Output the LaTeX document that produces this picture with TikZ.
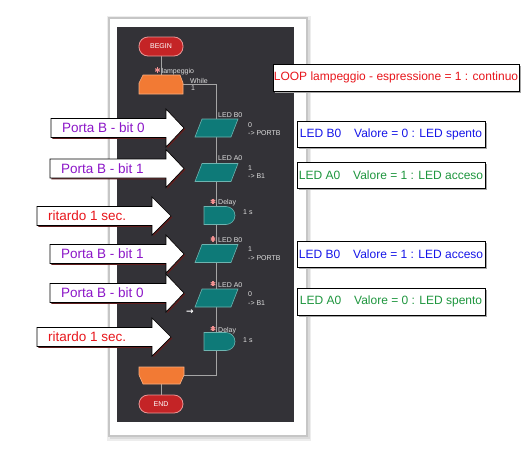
\documentclass[tikz,border=0pt]{standalone}
\usepackage{fontspec}
\setmainfont{Liberation Sans}
\newfontfamily\dejavu{DejaVu Sans}
\usetikzlibrary{calc,shadows}
\pgfdeclarelayer{back}
\pgfdeclarelayer{lines}
\pgfsetlayers{back,lines,main}

\definecolor{panel}{RGB}{51,50,55}
\definecolor{framegray}{RGB}{198,198,198}
\definecolor{flowline}{RGB}{165,165,165}
\definecolor{orangeblk}{RGB}{242,122,52}
\definecolor{orangeedge}{RGB}{250,175,130}
\definecolor{tealblk}{RGB}{14,122,120}
\definecolor{tealedge}{RGB}{110,180,176}
\definecolor{redpill}{RGB}{196,36,38}
\definecolor{pilledge}{RGB}{235,150,150}
\definecolor{purpletxt}{RGB}{140,22,200}
\definecolor{redtxt}{RGB}{232,22,28}
\definecolor{bluetxt}{RGB}{22,22,232}
\definecolor{greentxt}{RGB}{30,150,62}
\definecolor{starpink}{RGB}{242,145,145}
\definecolor{smalltxt}{RGB}{222,222,222}
\definecolor{arrowshadow}{RGB}{95,30,30}

\tikzset{
  flow/.style={draw=flowline, line width=0.9pt},
  pill/.style={rectangle, rounded corners=9pt, fill=redpill, draw=pilledge, line width=0.8pt,
    minimum width=44pt, minimum height=19pt, inner sep=0pt, text=white,
    font=\fontsize{7}{8}\selectfont},
  anchorbox/.style={rectangle, inner sep=0pt, draw=none},
  tealshape/.style={fill=tealblk, draw=tealedge, line width=0.6pt},
  orangeshape/.style={fill=orangeblk, draw=orangeedge, line width=0.6pt},
  smalltext/.style={anchor=base west, inner sep=0pt, text=smalltxt, font=\fontsize{7}{8}\selectfont},
  starmark/.style={circle, minimum size=6pt, inner sep=0pt,
    path picture={\foreach \a in {90,30,-30}{
      \draw[starpink, line width=1.1pt]
        ($(path picture bounding box.center)+(\a:2.6pt)$) --
        ($(path picture bounding box.center)+(\a+180:2.6pt)$);}}},
  notebox/.style={rectangle, draw=black, line width=0.8pt, fill=white, inner sep=0pt,
    font=\fontsize{12}{14}\selectfont,
    drop shadow={shadow xshift=1.5pt, shadow yshift=-1.5pt, fill=black!35, opacity=1}},
  calltext/.style={anchor=west, inner sep=0pt, font=\fontsize{13.5}{15}\selectfont},
  callshape/.style={fill=white, draw=black, line width=0.7pt},
  callshadow/.style={fill=arrowshadow},
}

\newcommand\callout[7]{%
  \fill[callshadow, shift={(1.3,1.3)}] (#2,#5-9.5) -- (#3,#5-9.5) -- (#3,#5-19) -- (#4,#5)
     -- (#3,#5+19) -- (#3,#5+9.5) -- (#2,#5+9.5) -- cycle;
  \filldraw[callshape] (#2,#5-9.5) -- (#3,#5-9.5) -- (#3,#5-19) -- (#4,#5)
     -- (#3,#5+19) -- (#3,#5+9.5) -- (#2,#5+9.5) -- cycle;
  \node[calltext, text=#6] (#1) at (#2+11,#5) {#7};
}

\newcommand\paraat[2]{%
  \node[anchorbox, minimum width=36pt, minimum height=18pt] (#1) at (216.5,#2) {};
  \filldraw[tealshape] (195,#2+9) -- (202,#2-9) -- (238,#2-9) -- (231,#2+9) -- cycle;
}

\newcommand\delayat[2]{%
  \node[anchorbox, minimum width=31pt, minimum height=18pt] (#1) at (219.5,#2) {};
  \filldraw[tealshape] (204,#2+9) -- (204,#2-9) [rounded corners=9pt] -- (235,#2-9)
     -- (235,#2+9) [sharp corners] -- cycle;
}

\begin{document}
\begin{tikzpicture}[x=1pt, y=-1pt]
\useasboundingbox (0,0) rectangle (526,458);

\begin{pgfonlayer}{back}
  \fill[white] (0,0) rectangle (526,458);
  \fill[black!7] (107,16) rectangle (311,441);
  \fill[black!14] (110,20) rectangle (310,439);
  \filldraw[fill=white, draw=framegray, line width=2pt] (109,18) rectangle (307,436);
  \fill[panel] (117,27) rectangle (294,422);
\end{pgfonlayer}

% ---- flowchart blocks
\node[pill] (begin) at (161,46.5) {BEGIN};
\node[anchorbox, minimum width=44pt, minimum height=19pt] (loopA) at (161,84.5) {};
\filldraw[orangeshape] (143,75) -- (180,75) -- (183,83) -- (183,94) -- (139,94) -- (139,83) -- cycle;

\paraat{p1}{128}
\paraat{p2}{172.5}
\delayat{d1}{215.5}
\paraat{p3}{253.5}
\paraat{p4}{298}
\delayat{d2}{341.5}

\node[anchorbox, minimum width=45pt, minimum height=17pt] (loopB) at (161.5,375.5) {};
\filldraw[orangeshape] (139,367) -- (184,367) -- (184,375) -- (180,384) -- (143,384) -- (139,375) -- cycle;
\node[pill, minimum height=18pt] (end) at (161,404) {END};

% ---- connectors
\begin{pgfonlayer}{lines}
  \draw[flow] (begin) -- (loopA);
  \draw[flow] (loopA.east) -| (p1.north);
  \draw[flow] (p1) -- (p2);
  \draw[flow] (p2) -- (p2 |- d1.north);
  \draw[flow] (p2 |- d1.south) -- (p3);
  \draw[flow] (p3) -- (p4);
  \draw[flow] (p4) -- (p4 |- d2.north);
  \draw[flow] (p4 |- d2.south) |- (loopB.east);
  \draw[flow] (loopB.south) -- (loopB.south |- end.north);
\end{pgfonlayer}

% ---- small labels
\node[starmark] (st0) at (157.5,70) {};
\node[smalltext] (t0) at (161.5,73) {lampeggio};
\node[smalltext] (tw) at (190,83.5) {While};
\node[smalltext] (tw1) at (191,90) {1};

\node[smalltext] (t1) at (218,117) {LED B0};
\node[smalltext] (v1) at (248,127) {0};
\node[smalltext] (o1) at (248,135) {-> PORTB};

\node[smalltext] (t2) at (218,160.3) {LED A0};
\node[smalltext] (v2) at (248,170.5) {1};
\node[smalltext] (o2) at (248,178.5) {-> B1};

\node[starmark] (st3) at (213,201.3) {};
\node[smalltext] (t3) at (218,204.5) {Delay};
\node[smalltext] (v3) at (243,214) {1 s};

\node[starmark] (st4) at (213,239) {};
\node[smalltext] (t4) at (218,242.5) {LED B0};
\node[smalltext] (v4) at (248,251.8) {1};
\node[smalltext] (o4) at (248,260.2) {-> PORTB};

\node[starmark] (st5) at (213,283.7) {};
\node[smalltext] (t5) at (218,287.2) {LED A0};
\node[smalltext] (v5) at (248,296.5) {0};
\node[smalltext] (o5) at (248,305.5) {-> B1};
\node[anchor=base west, inner sep=0pt, text=white, font=\fontsize{9}{9}\dejavu\bfseries] (cur) at (186,314.2) {→};

\node[starmark] (st6) at (213,328.7) {};
\node[smalltext] (t6) at (218,332) {Delay};
\node[smalltext] (v6) at (243,342) {1 s};

% ---- right notes
\node[notebox, minimum width=246pt, minimum height=27pt, text=redtxt] (n0) at (396,77.5)
  {LOOP lampeggio - espressione = 1 : continuo};
\node[notebox, minimum width=188pt, minimum height=26pt, text=bluetxt] (n1) at (391,134)
  {LED B0\hspace{13pt}Valore = 0 : LED spento};
\node[notebox, minimum width=188pt, minimum height=26pt, text=greentxt] (n2) at (391,175.5)
  {LED A0\hspace{13pt}Valore = 1 : LED acceso};
\node[notebox, minimum width=188pt, minimum height=26pt, text=bluetxt] (n3) at (391,254)
  {LED B0\hspace{13pt}Valore = 1 : LED acceso};
\node[notebox, minimum width=188pt, minimum height=27pt, text=greentxt] (n4) at (391,301.5)
  {LED A0\hspace{13pt}Valore = 0 : LED spento};

% ---- left callout arrows
\callout{a1}{51}{166}{184}{128}{purpletxt}{Porta B - bit 0}
\callout{a2}{50}{166}{184}{168.5}{purpletxt}{Porta B - bit 1}
\callout{a3}{37}{152}{171}{216}{redtxt}{ritardo 1 sec.}
\callout{a4}{50}{166}{184}{254}{purpletxt}{Porta B - bit 1}
\callout{a5}{50}{166}{184}{293}{purpletxt}{Porta B - bit 0}
\callout{a6}{37}{152}{171}{337}{redtxt}{ritardo 1 sec.}
\end{tikzpicture}
\end{document}
